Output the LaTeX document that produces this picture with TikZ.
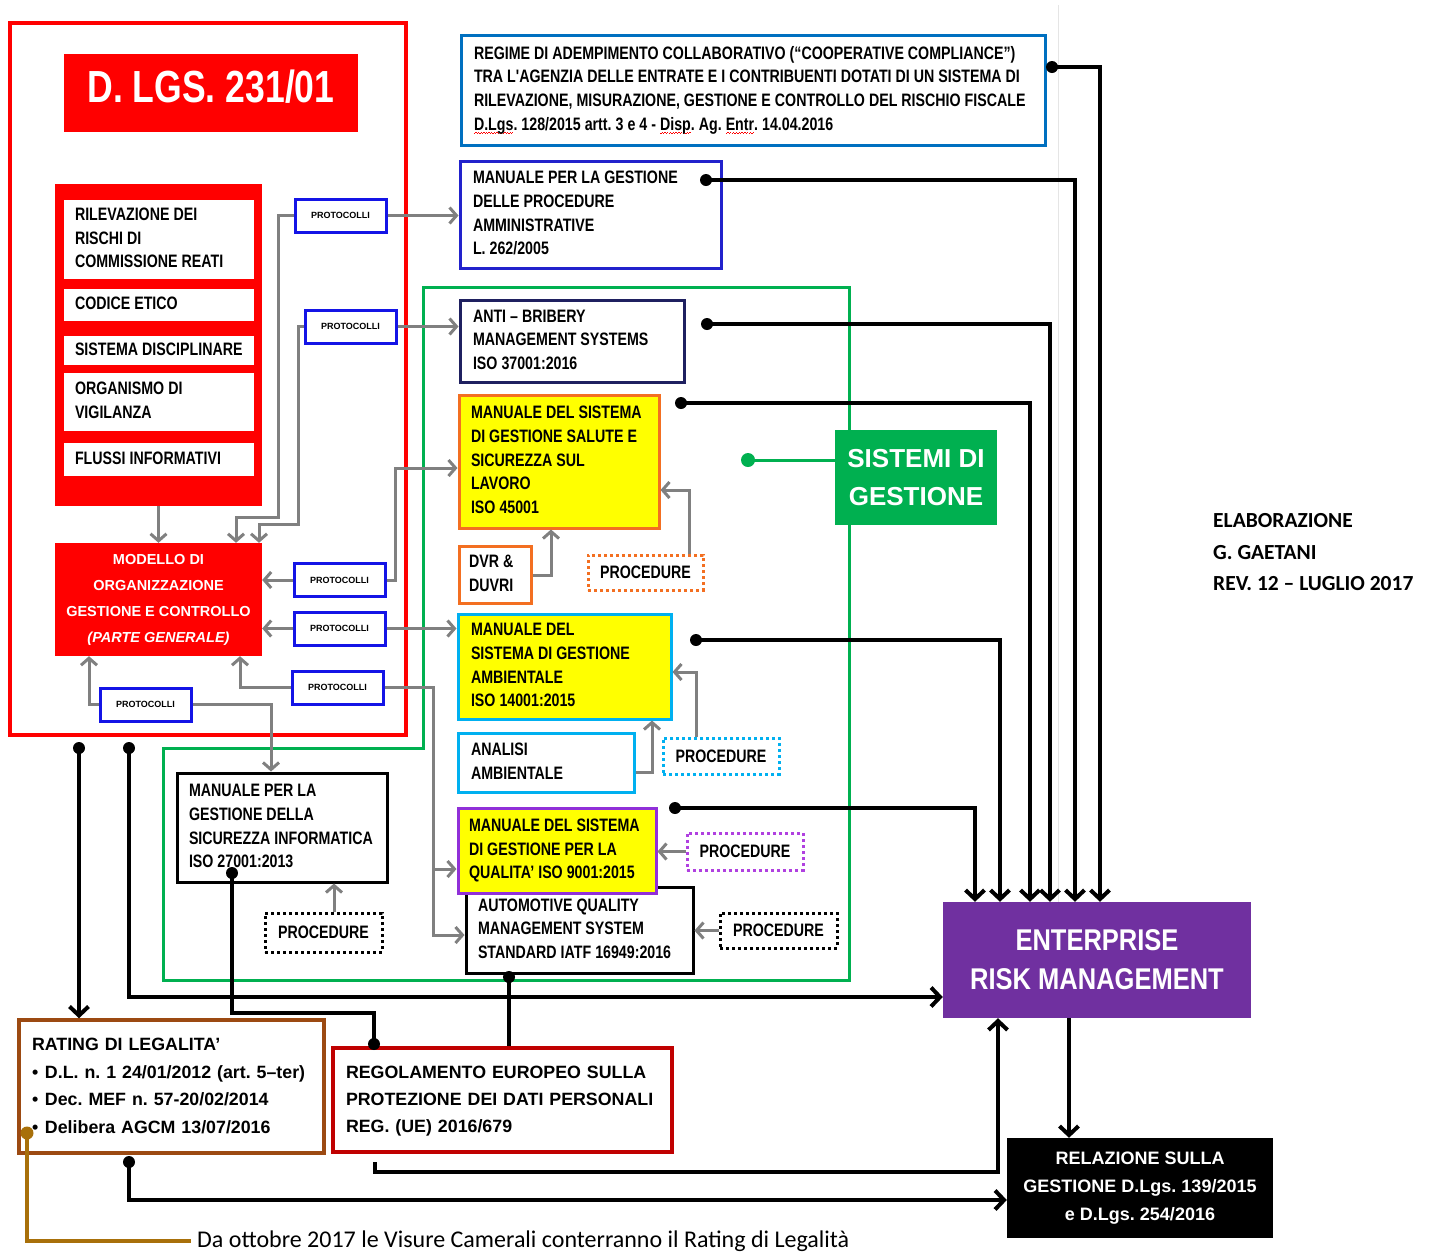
\documentclass[tikz,border=0pt]{standalone}
\usepackage{fontspec}
\setmainfont{Liberation Sans}
\newfontfamily\nf[FakeStretch=0.79]{Liberation Sans}
\newfontfamily\nfw[FakeStretch=0.85]{Liberation Sans}
\newfontfamily\cf{Carlito}
\usetikzlibrary{arrows.meta}
\newcommand\mlines[1]{{\spaceskip=4pt plus 0.5pt\relax\begin{tabular}{@{}l@{}}#1\end{tabular}}}
\newcommand\mlinesn[1]{\begin{tabular}{@{}l@{}}#1\end{tabular}}
\newcommand\redwave[1]{\setbox0\hbox{#1}\rlap{\textcolor{red}{\xleaders\hbox{\rule[-3.6pt]{1.3pt}{0.8pt}\rule[-2.7pt]{1.3pt}{0.8pt}}\hskip\wd0}}\box0}
\definecolor{fred}{HTML}{FF0000}
\definecolor{agray}{HTML}{808080}
\definecolor{regblue}{HTML}{0070C0}
\definecolor{mblue}{HTML}{2222CC}
\definecolor{pblue}{HTML}{1414E6}
\definecolor{navyb}{HTML}{1F2060}
\definecolor{oran}{HTML}{F36F21}
\definecolor{cyanb}{HTML}{00B0F0}
\definecolor{vio}{HTML}{9030D8}
\definecolor{viod}{HTML}{B040E0}
\definecolor{sgreen}{HTML}{00B050}
\definecolor{ermp}{HTML}{7030A0}
\definecolor{rbrown}{HTML}{9C4A12}
\definecolor{dred}{HTML}{C00000}
\definecolor{ochre}{HTML}{A8700A}
\definecolor{yel}{HTML}{FFFF00}
\begin{document}
\frenchspacing
\begin{tikzpicture}[x=1pt,y=-1pt,
  garr/.style={draw=agray, line width=3pt, -{Straight Barb[length=7pt,width=16pt]}},
  barr/.style={draw=black, line width=4pt, -{Straight Barb[length=9pt,width=19pt]}},
  bline/.style={draw=black, line width=4pt},
  tbox/.style={draw, line width=3pt, fill=white, align=left, inner ysep=0pt, font={\nf\bfseries\fontsize{18}{23.7}\selectfont}},
  wbox/.style={tbox, draw=none, minimum width=190pt, text width=168pt, inner xsep=11pt},
  prot/.style={draw=pblue, line width=3pt, fill=white, inner sep=0pt, minimum width=91pt, minimum height=33pt, font=\bfseries\fontsize{9}{10}\selectfont},
  pdot/.style={draw, line width=3pt, dash pattern=on 3pt off 3pt, fill=white, inner sep=0pt, font=\nf\bfseries\fontsize{18}{22}\selectfont},
  fillbox/.style={inner sep=0pt, text=white, align=center},
  lbox/.style={draw, line width=3.5pt, fill=white, align=left, inner ysep=0pt, font=\bfseries\fontsize{17.8}{27.4}\selectfont},
]
\useasboundingbox (0,0) rectangle (1432,1254);
% faint separator
\draw[gray!20, line width=1pt] (1058,5) -- (1058,902);
% frames
\draw[fred, line width=4pt] (10,23) rectangle (406,735);
\draw[sgreen, line width=3pt] (423,287) -- (849,287) -- (849,980) -- (163,980) -- (163,748) -- (423,748) -- cycle;

% D.LGS block
\node[fillbox, fill=fred, minimum width=294pt, minimum height=78pt, font=\nf\bfseries\fontsize{45}{50}\selectfont, text height=32pt, text depth=14pt] (dlgs) at (211,93) {D. LGS. 231/01};
\node[fill=fred, minimum width=207pt, minimum height=322pt, inner sep=0pt] (rblock) at (158.5,345) {};
\node[wbox, minimum height=79pt] (rilev) at (159,239.5) {\mlines{RILEVAZIONE DEI\\RISCHI DI\\COMMISSIONE REATI}};
\node[wbox, minimum height=32pt] (codice) at (159,305) {\mlines{CODICE ETICO}};
\node[wbox, minimum height=29pt] (sistema) at (159,350.5) {\mlines{SISTEMA DISCIPLINARE}};
\node[wbox, minimum height=58pt] (organ) at (159,402) {\mlines{ORGANISMO DI\\VIGILANZA}};
\node[wbox, minimum height=33pt] (flussi) at (159,459.5) {\mlines{FLUSSI INFORMATIVI}};
\node[fillbox, fill=fred, minimum width=207pt, minimum height=113pt, font=\bfseries\fontsize{14.5}{26}\selectfont] (modello) at (158.5,599.5) {MODELLO DI\\ORGANIZZAZIONE\\GESTIONE E CONTROLLO\\\textit{(PARTE GENERALE)}};

% protocolli
\node[prot] (P1) at (340.5,215.5) {PROTOCOLLI};
\node[prot] (P2) at (350.5,326.5) {PROTOCOLLI};
\node[prot] (P3) at (339.5,580) {PROTOCOLLI};
\node[prot] (P4) at (339.5,628.5) {PROTOCOLLI};
\node[prot] (P5) at (337.5,687.5) {PROTOCOLLI};
\node[prot] (P6) at (145.5,704.5) {PROTOCOLLI};

% right column boxes
\node[tbox, draw=regblue, minimum width=584pt, minimum height=110pt, text width=558pt, inner xsep=13pt] (regime) at (753,90) {\mlines{REGIME DI ADEMPIMENTO COLLABORATIVO (“COOPERATIVE COMPLIANCE”)\\TRA L'AGENZIA DELLE ENTRATE E I CONTRIBUENTI DOTATI DI UN SISTEMA DI\\RILEVAZIONE, MISURAZIONE, GESTIONE E CONTROLLO DEL RISCHIO FISCALE\\\redwave{D.Lgs}. 128/2015 artt. 3 e 4 - \redwave{Disp}. Ag. \redwave{Entr}. 14.04.2016}};
\node[tbox, draw=mblue, minimum width=261pt, minimum height=107pt, text width=235pt, inner xsep=13pt] (mpa) at (590.5,214.5) {\mlines{MANUALE PER LA GESTIONE\\DELLE PROCEDURE\\AMMINISTRATIVE\\L. 262/2005}};
\node[tbox, draw=navyb, minimum width=224pt, minimum height=82pt, text width=198pt, inner xsep=13pt] (antib) at (572,341) {\mlines{ANTI – BRIBERY\\MANAGEMENT SYSTEMS\\ISO 37001:2016}};
\node[tbox, draw=oran, fill=yel, minimum width=200pt, minimum height=133pt, text width=176pt, inner xsep=12pt] (salute) at (559,461.5) {\mlines{MANUALE DEL SISTEMA\\DI GESTIONE SALUTE E\\SICUREZZA SUL\\LAVORO\\ISO 45001}};
\node[tbox, draw=oran, minimum width=72pt, minimum height=57pt, text width=52pt, inner xsep=10pt] (dvr) at (495,574.5) {\mlines{DVR \&\\DUVRI}};
\node[pdot, draw=oran, minimum width=115pt, minimum height=35pt] (proc1) at (645.5,572.5) {PROCEDURE};
\node[tbox, draw=cyanb, fill=yel, minimum width=213pt, minimum height=105pt, text width=187pt, inner xsep=13pt] (amb) at (564.5,666.5) {\mlines{MANUALE DEL\\SISTEMA DI GESTIONE\\AMBIENTALE\\ISO 14001:2015}};
\node[tbox, draw=cyanb, minimum width=176pt, minimum height=59pt, text width=150pt, inner xsep=13pt] (analisi) at (546,762.5) {\mlines{ANALISI\\AMBIENTALE}};
\node[pdot, draw=cyanb, minimum width=116pt, minimum height=36pt] (proc2) at (721,756) {PROCEDURE};
\node[tbox, draw=black, minimum width=227pt, minimum height=86pt, text width=203pt, inner xsep=12pt] (auto) at (579.5,930) {\mlines{AUTOMOTIVE QUALITY\\MANAGEMENT SYSTEM\\STANDARD IATF 16949:2016}};
\node[tbox, draw=vio, fill=yel, minimum width=198pt, minimum height=85pt, text width=176pt, inner xsep=11pt] (qual) at (557,850.5) {\mlines{MANUALE DEL SISTEMA\\DI GESTIONE PER LA\\QUALITA’ ISO 9001:2015}};
\node[pdot, draw=viod, minimum width=116pt, minimum height=37pt] (proc3) at (745,851.5) {PROCEDURE};
\node[pdot, draw=black, minimum width=117pt, minimum height=35pt] (proc4) at (778.5,930.5) {PROCEDURE};
\node[tbox, draw=black, minimum width=210pt, minimum height=109pt, text width=186pt, inner xsep=12pt] (sicinf) at (282,827.5) {\mlines{MANUALE PER LA\\GESTIONE DELLA\\SICUREZZA INFORMATICA\\ISO 27001:2013}};
\node[pdot, draw=black, minimum width=117pt, minimum height=39pt] (proc5) at (323.5,932.5) {PROCEDURE};
\node[fillbox, fill=sgreen, minimum width=162pt, minimum height=95pt, font=\bfseries\fontsize{26}{38}\selectfont] (sistemi) at (916,477.5) {SISTEMI DI\\GESTIONE};
\node[fillbox, fill=ermp, minimum width=308pt, minimum height=116pt, font=\nfw\bfseries\fontsize{30}{39}\selectfont] (erm) at (1097,960) {ENTERPRISE\\RISK MANAGEMENT};
\node[fillbox, fill=black, minimum width=266pt, minimum height=100pt, font=\bfseries\fontsize{18}{28}\selectfont] (relaz) at (1140,1188) {RELAZIONE SULLA\\GESTIONE D.Lgs. 139/2015\\e D.Lgs. 254/2016};
\node[lbox, draw=rbrown, minimum width=305pt, minimum height=133pt, text width=279pt, inner xsep=13pt] (rating) at (171.5,1086.5) {\mlinesn{RATING DI LEGALITA’\\\makebox[13pt][l]{•}D.L. n. 1 24/01/2012 (art. 5–ter)\\\makebox[13pt][l]{•}Dec. MEF n. 57-20/02/2014\\\makebox[13pt][l]{•}Delibera AGCM 13/07/2016}};
\node[lbox, draw=dred, minimum width=339pt, minimum height=104pt, text width=313pt, inner xsep=13pt] (regol) at (502.5,1100) {\mlinesn{REGOLAMENTO EUROPEO SULLA\\PROTEZIONE DEI DATI PERSONALI\\REG. (UE) 2016/679}};
\node[anchor=west, inner sep=0pt, align=left, font=\cf\bfseries\fontsize{21.5}{31.5}\selectfont] (elab) at (1213,552.5) {ELABORAZIONE\\G. GAETANI\\REV. 12 – LUGLIO 2017};
\node[anchor=west, inner sep=0pt, font=\cf\fontsize{24}{28}\selectfont] (note) at (197,1241) {Da ottobre 2017 le Visure Camerali conterranno il Rating di Legalità};

% grey connectors
\draw[garr] (rblock.south) -- (modello.north);
\draw[garr] (P1.east) -- (P1.east -| mpa.west);
\draw[garr] (P1.west) -- (278,215.5) -- (278,517) -- (236,517) -- (236,0 |- modello.north);
\draw[garr] (P2.east) -- (P2.east -| antib.west);
\draw[garr] (P2.west) -- (298,326.5) -- (298,524) -- (259,524) -- (259,0 |- modello.north);
\draw[garr] (P3.west) -- (P3.west -| modello.east);
\draw[garr] (P3.east) -- (395,580) -- (395,468) -- (salute.west |- 0,468);
\draw[garr] (P4.west) -- (P4.west -| modello.east);
\draw[garr] (P4.east) -- (P4.east -| amb.west);
\draw[garr] (P5.west) -- (240,687.5) -- (240,0 |- modello.south);
\draw[garr] (P5.east) -- (433,687.5) -- (433,935) -- (auto.west |- 0,935);
\draw[garr] (433,869) -- (qual.west |- 0,869);
\draw[garr] (P6.west) -- (89,704.5) -- (89,0 |- modello.south);
\draw[garr] (P6.east) -- (271,704.5) -- (271,0 |- sicinf.north);
\draw[garr] (dvr.east |- 0,575) -- (551,575) -- (551,0 |- salute.south);
\draw[garr] (689,0 |- proc1.north) -- (689,490) -- (salute.east |- 0,490);
\draw[garr] (analisi.east |- 0,772) -- (652,772) -- (652,0 |- amb.south);
\draw[garr] (696,0 |- proc2.north) -- (696,672) -- (amb.east |- 0,672);
\draw[garr] (proc3.west) -- (proc3.west -| qual.east);
\draw[garr] (proc4.west) -- (proc4.west -| auto.east);
\draw[garr] (334,0 |- proc5.north) -- (334,0 |- sicinf.south);

% green connector
\coordinate (gdot) at (748,460);
\draw[sgreen, line width=3pt] (sistemi.west |- gdot) -- (gdot);
\fill[sgreen] (gdot) circle[radius=7pt];

% black connectors to ERM
\coordinate (k1) at (1052,67);
\coordinate (k2) at (706,180);
\coordinate (k3) at (707,324);
\coordinate (k4) at (681,403);
\coordinate (k5) at (696,640);
\coordinate (k6) at (675,808);
\foreach \k/\xx in {k1/1100,k2/1075,k3/1050,k4/1030,k5/1000,k6/975}{
  \fill (\k) circle[radius=6pt];
  \draw[barr] (\k) -| (\xx,0 |- erm.north);
}
\coordinate (m1) at (129,748);
\coordinate (m2) at (79,748);
\fill (m1) circle[radius=6pt];
\fill (m2) circle[radius=6pt];
\draw[barr] (m1) |- (erm.west |- 0,997);
\draw[barr] (m2) -- (79,0 |- rating.north);
\coordinate (s1) at (232,873);
\fill (s1) circle[radius=6pt];
\draw[bline] (s1) |- (374,1013) -- (374,0 |- regol.north);
\fill (374,1044) circle[radius=6pt];
\coordinate (a1) at (509,977);
\fill (a1) circle[radius=6pt];
\draw[bline] (a1) -- (509,0 |- regol.north);
\coordinate (r1) at (375,1162);
\draw[barr] (r1) |- (998,1172) -- (998,0 |- erm.south);
\coordinate (r2) at (129,1162);
\fill (r2) circle[radius=6pt];
\draw[barr] (r2) |- (relaz.west |- 0,1200);
\draw[barr] (1069,0 |- erm.south) -- (1069,0 |- relaz.north);
% brown note connector
\coordinate (b1) at (27,1133);
\fill[ochre] (b1) circle[radius=6.5pt];
\draw[ochre, line width=4pt] (b1) |- ([xshift=-6pt]note.west);
\end{tikzpicture}
\end{document}
